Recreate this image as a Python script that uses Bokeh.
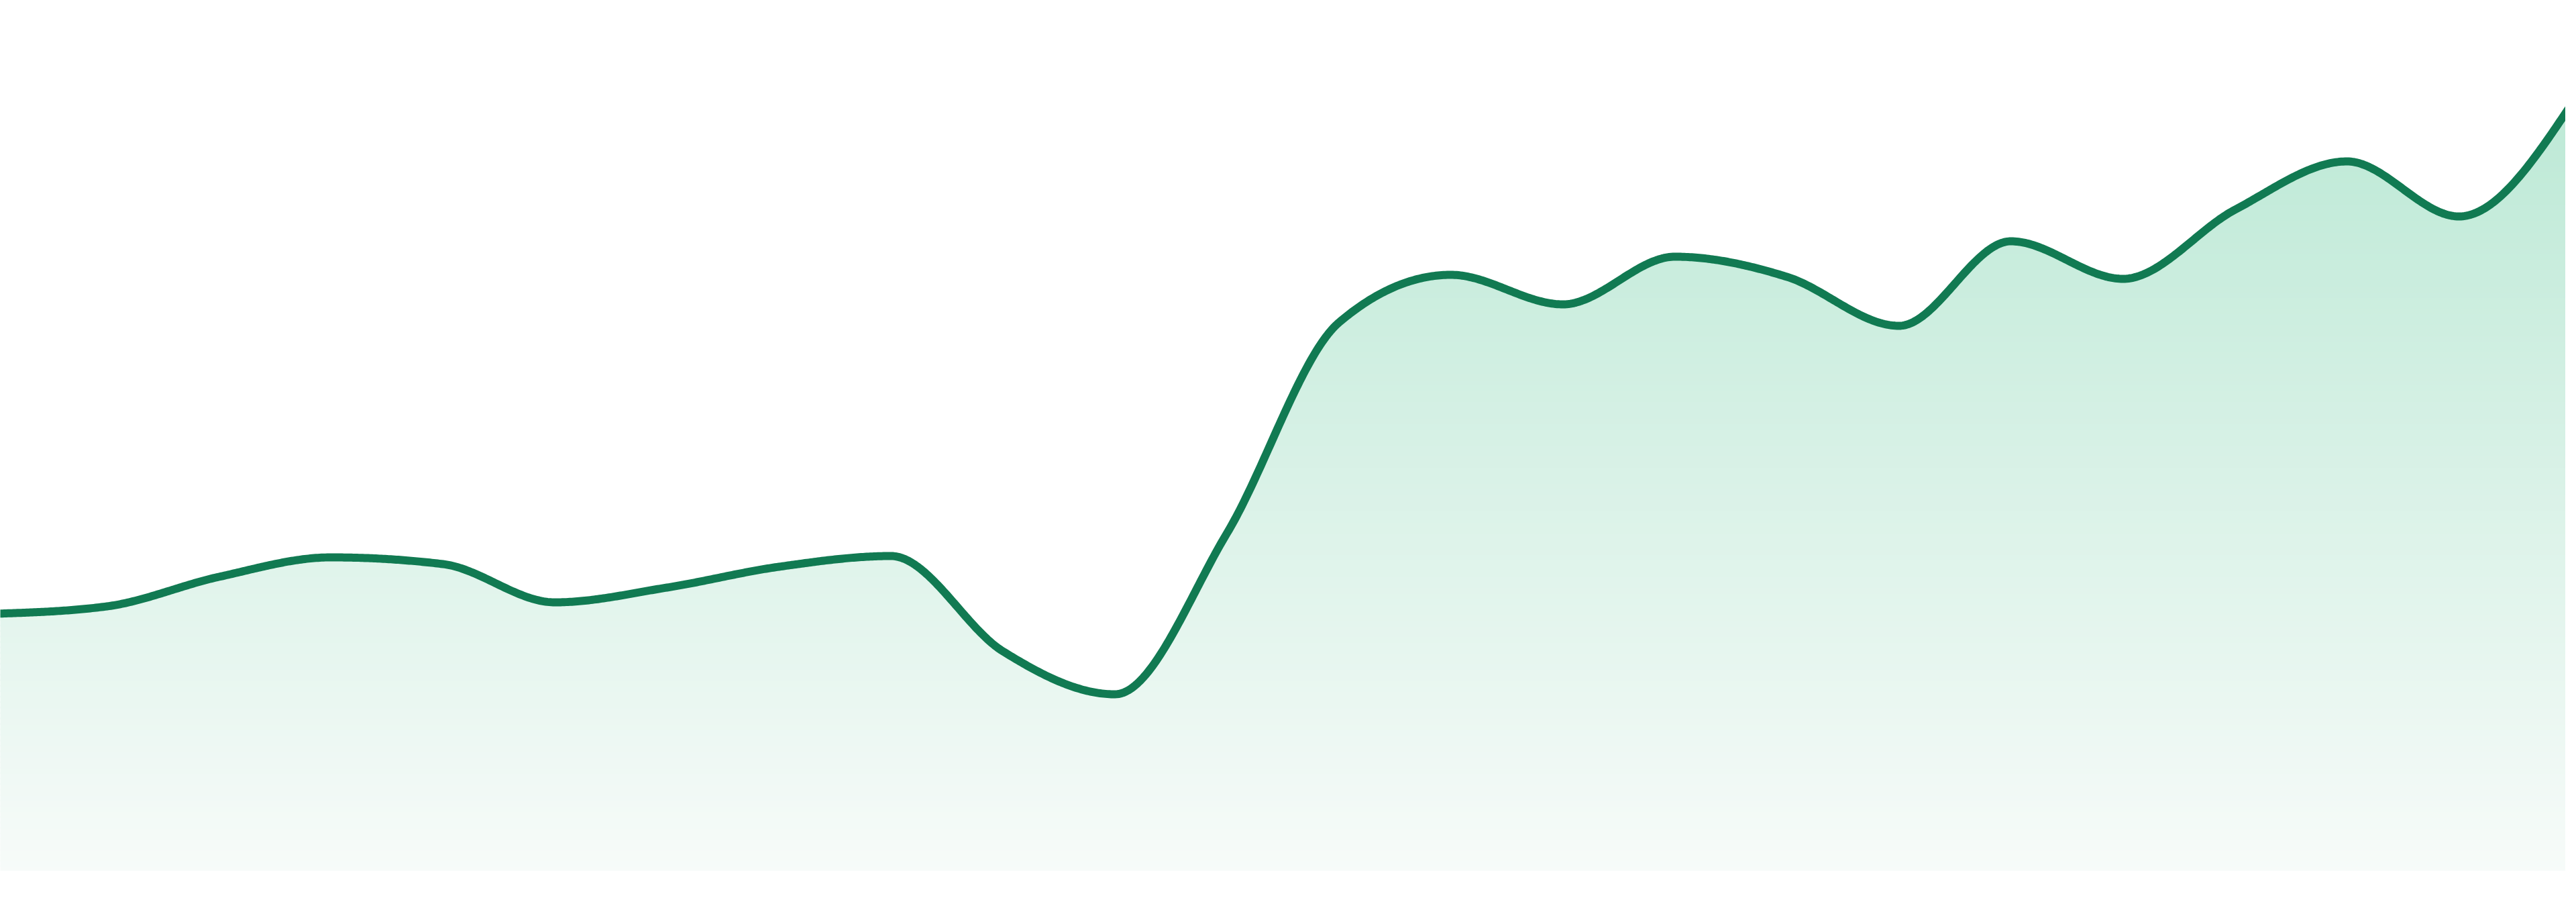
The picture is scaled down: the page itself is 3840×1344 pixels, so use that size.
import numpy as np
from bokeh.plotting import figure
from bokeh.models import Range1d
from bokeh.embed import file_html
from bokeh.resources import INLINE

# ---- data ----
steps = list(range(24))
values = [38.3, 39.4, 43.8, 46.7, 45.7, 40.0, 42.2, 45.3, 46.9, 32.7, 26.3, 50.3,
          81.7, 88.8, 84.4, 91.5, 88.5, 81.2, 93.8, 88.2, 98.5, 105.7, 97.5, 114.1]
baseline = 0.0

line_color = "#117A52"
grad_top = (189, 233, 214)
grad_bottom = (247, 251, 249)


def monotone_x(xs, ys, per_seg=60):
    """Sample a monotone cubic (d3 curveMonotoneX style) through the points."""
    xs = np.asarray(xs, float)
    ys = np.asarray(ys, float)
    n = len(xs)
    h = np.diff(xs)
    s = np.diff(ys) / h
    t = np.zeros(n)
    sgn = lambda v: -1.0 if v < 0 else 1.0
    for i in range(1, n - 1):
        s0, s1, h0, h1 = s[i - 1], s[i], h[i - 1], h[i]
        pp = (s0 * h1 + s1 * h0) / (h0 + h1)
        t[i] = (sgn(s0) + sgn(s1)) * min(abs(s0), abs(s1), 0.5 * abs(pp))
    t[0] = (3 * s[0] - t[1]) / 2
    t[-1] = (3 * s[-1] - t[-2]) / 2
    out_x, out_y = [], []
    for i in range(n - 1):
        u = np.linspace(0, 1, per_seg, endpoint=(i == n - 2))
        dx = h[i]
        p0, p3 = ys[i], ys[i + 1]
        p1 = p0 + dx / 3 * t[i]
        p2 = p3 - dx / 3 * t[i + 1]
        yy = (1 - u) ** 3 * p0 + 3 * (1 - u) ** 2 * u * p1 + 3 * (1 - u) * u ** 2 * p2 + u ** 3 * p3
        out_x.append(xs[i] + u * dx)
        out_y.append(yy)
    return np.concatenate(out_x), np.concatenate(out_y)


cx, cy = monotone_x(steps, values)

W, H = 3824, 1328
seg_px = 3840 / (len(steps) - 1)
x_lo = 8 / seg_px
x_hi = (8 + W) / seg_px
y_top = 129.7
y_bot = y_top - H / 10.0

p = figure(width=W, height=H, x_range=Range1d(x_lo, x_hi), y_range=Range1d(y_bot, y_top),
           output_backend="svg", toolbar_location=None, min_border=0,
           x_axis_location=None, y_axis_location=None)
p.grid.visible = False
p.outline_line_color = None
p.background_fill_color = "white"
p.border_fill_color = "white"

# vertical gradient fill under the curve, built from thin horizontal bands
vmax = max(values)
nb = 140
edges = np.linspace(baseline, vmax, nb + 1)
overlap = 0.25
for j in range(nb):
    lo, hi = edges[j], edges[j + 1]
    f = 1 - ((lo + hi) / 2 - baseline) / (vmax - baseline)
    r = round(grad_top[0] + (grad_bottom[0] - grad_top[0]) * f)
    g = round(grad_top[1] + (grad_bottom[1] - grad_top[1]) * f)
    b = round(grad_top[2] + (grad_bottom[2] - grad_top[2]) * f)
    y1 = lo - (overlap if j > 0 else 0)
    y2 = np.clip(cy, y1, hi)
    p.varea(x=cx, y1=np.full_like(cx, y1), y2=y2, fill_color=(r, g, b), fill_alpha=1.0)

p.line(cx, cy, line_color=line_color, line_width=12, line_join="round", line_cap="round")

open("out.html", "w").write(file_html(p, INLINE))
